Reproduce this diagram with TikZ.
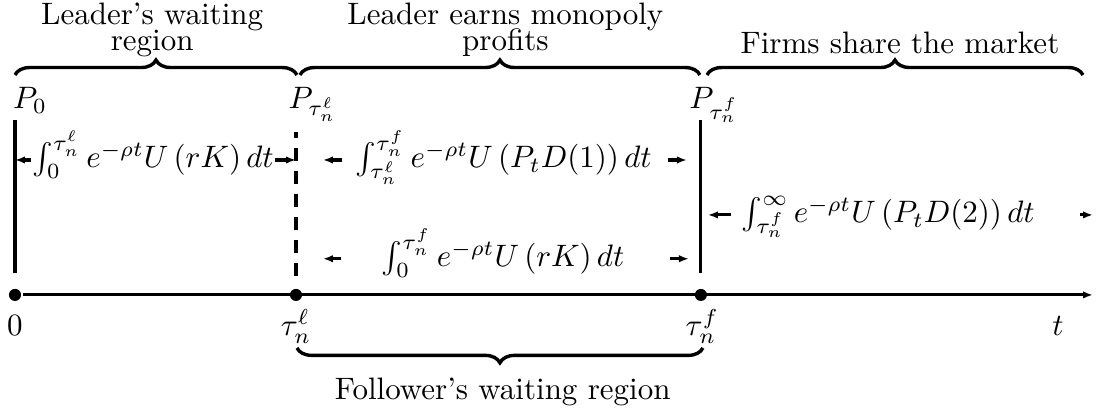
\documentclass[tikz,border=0pt]{standalone}
\usepackage{amsmath, amssymb}
\usetikzlibrary{arrows.meta, decorations.pathreplacing, calc, positioning}

\begin{document}
\begin{tikzpicture}[line width=1pt,
    dot/.style={circle, fill=black, inner sep=0pt, minimum size=3.9pt},
    brc/.style={decorate, decoration={brace, amplitude=4.8pt}, line width=1.1pt},
    headtext/.style={anchor=south, align=center, inner sep=0pt},
    intl/.style={inner sep=0pt, text height=8pt, text depth=3pt},
    arr/.style={-{Latex[length=3.2pt, width=2.4pt]}}]
        \useasboundingbox (-0.170, -1.349) rectangle (12.257, 3.344);

        % Time axis
        \node[dot] (d0) at (0, 0) {};
        \node[dot] (dl) at (3.186, 0) {};
        \node[dot] (df) at (7.777, 0) {};
        \coordinate (tend) at (12.222, 0);
        \draw[arr] (d0) -- (tend);
        \node[anchor=base] (n0) at (0, -0.464) {$0$};
        \node[anchor=base] (nl) at (3.186, -0.464) {$\tau_n^\ell$};
        \node[anchor=base] (nf) at (7.793, -0.464) {$\tau_n^f$};
        \node[anchor=base] (nt) at (11.825, -0.464) {$t$};

        % Vertical markers
        \coordinate (top0) at (0, 1.984);
        \coordinate (topl) at (3.186, 1.848);
        \coordinate (topf) at (7.777, 1.984);
        \draw[shorten <=4.5pt] (d0) -- (top0);
        \draw[dash pattern=on 4.2pt off 3.2pt, shorten <=3.8pt] (dl) -- (topl);
        \draw[shorten <=4.5pt] (df) -- (topf);
        \node[anchor=base west, inner sep=0pt] (p0) at (-0.039, 2.110) {$P_0$};
        \node[anchor=base west, inner sep=0pt] (pl) at (3.084, 2.110) {$P_{\tau_n^\ell}$};
        \node[anchor=base west, inner sep=0pt] (pf) at (7.630, 2.110) {$P_{\tau_n^f}$};

        % Regions
        \draw[brc] (0, 2.494) -- (3.197, 2.494);
        \draw[brc] (3.231, 2.494) -- (7.766, 2.494);
        \draw[brc] (7.846, 2.494) -- (12.109, 2.494);
        \node[headtext] (lw) at (1.555, 2.680) {Leader's waiting\\[-3.6pt]region};
        \node[headtext] (lm) at (5.560, 2.680) {Leader earns monopoly\\[-3.6pt]profits};
        \node[headtext] (fs) at (10.034, 2.720) {Firms share the market};
        \draw[brc, decoration={mirror}] (3.197, -0.601) -- (7.800, -0.601);
        \node[anchor=base] (fw) at (5.530, -1.191) {Follower's waiting region};

        % Payoffs
        \node[intl] (i1) at (1.565, 1.530) {$\int_0^{\tau_n^\ell} e^{-\rho t} U\left(rK\right) dt$};
        \node[intl] (i2) at (5.539, 1.530) {$\int_{\tau_n^\ell}^{\tau_n^f} e^{-\rho t} U\left(P_t D(1)\right) dt$};
        \node[intl] (i3) at (9.900, 0.907) {$\int_{\tau_n^f}^{\infty} e^{-\rho t} U\left(P_t D(2)\right) dt$};
        \node[intl] (i4) at (5.533, 0.410) {$\int_0^{\tau_n^f} e^{-\rho t} U\left(rK\right) dt$};
        \draw[arr] (i1.west) -- (i1.west -| top0);
        \draw[arr] (i1.east) -- (i1.east -| topl);
        \draw[arr, shorten <=0.130cm, shorten >=0.306cm] (i2.west) -- (i2.west -| topl);
        \draw[arr, shorten <=0.164cm, shorten >=0.159cm] (i2.east) -- (i2.east -| topf);
        \draw[arr, shorten <=0.100cm, shorten >=0.080cm] (i3.west) -- (i3.west -| topf);
        \draw[arr, shorten <=0.500cm] (i3.east) -- (i3.east -| tend);
        \draw[arr, shorten <=0.442cm, shorten >=0.306cm] (i4.west) -- (i4.west -| topl);
        \draw[arr, shorten <=0.499cm, shorten >=0.136cm] (i4.east) -- (i4.east -| topf);
\end{tikzpicture}
\end{document}
